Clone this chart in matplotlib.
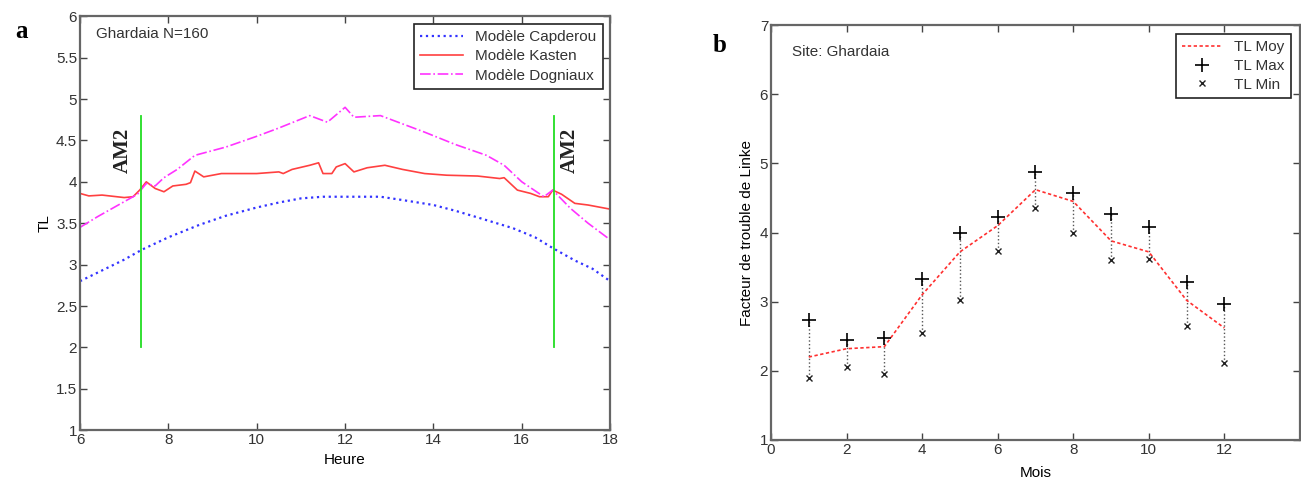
import numpy as np
import matplotlib.pyplot as plt

# panel a : TL hourly profiles, Ghardaia
heure_cap = [6, 6.5, 7, 7.4, 8, 8.7, 9.3, 10, 10.5, 11, 11.5, 12, 12.8, 13.3, 14, 14.5, 15, 15.8, 16.3, 16.7, 17.2, 17.6, 18]
tl_cap = [2.8, 2.93, 3.06, 3.18, 3.33, 3.48, 3.59, 3.69, 3.75, 3.8, 3.82, 3.82, 3.82, 3.78, 3.72, 3.65, 3.57, 3.44, 3.33, 3.2, 3.05, 2.95, 2.8]

heure_kas = [6, 6.2, 6.5, 7.0, 7.2, 7.35, 7.5, 7.7, 7.9, 8.1, 8.4, 8.5, 8.6, 8.8, 9.2, 10, 10.5, 10.6, 10.8,
             11.2, 11.4, 11.5, 11.7, 11.8, 12, 12.2, 12.5, 12.9, 13.3, 13.8, 14.3, 15, 15.5, 15.6, 15.9,
             16.2, 16.4, 16.6, 16.7, 16.9, 17.2, 17.5, 18]
tl_kas = [3.86, 3.83, 3.84, 3.81, 3.82, 3.9, 4.0, 3.92, 3.88, 3.95, 3.97, 3.99, 4.13, 4.06, 4.1, 4.1, 4.12, 4.1, 4.15,
          4.2, 4.23, 4.1, 4.1, 4.18, 4.22, 4.12, 4.17, 4.2, 4.15, 4.1, 4.08, 4.07, 4.04, 4.05, 3.9,
          3.86, 3.82, 3.82, 3.9, 3.85, 3.74, 3.72, 3.67]

heure_dog = [6, 6.4, 6.8, 7.3, 7.5, 7.7, 7.9, 8.2, 8.6, 9.3, 10, 10.5, 11.2, 11.6, 12, 12.2, 12.8, 13.3,
             13.8, 14.5, 15.2, 15.6, 16.0, 16.5, 16.7, 17.1, 17.5, 18]
tl_dog = [3.45, 3.58, 3.7, 3.85, 3.98, 3.95, 4.05, 4.15, 4.32, 4.42, 4.55, 4.65, 4.8, 4.72, 4.9, 4.78, 4.8, 4.7,
          4.6, 4.45, 4.32, 4.2, 4.0, 3.82, 3.9, 3.68, 3.5, 3.3]

am2_heures = [7.38, 16.73]

# panel b : monthly Linke turbidity
mois = np.arange(1, 13)
tl_moy = [2.2, 2.32, 2.35, 3.1, 3.72, 4.1, 4.62, 4.45, 3.88, 3.72, 3.02, 2.62]
tl_max = [2.73, 2.44, 2.47, 3.33, 4.0, 4.22, 4.88, 4.57, 4.27, 4.08, 3.28, 2.97]
tl_min = [1.9, 2.05, 1.95, 2.55, 3.03, 3.74, 4.36, 4.0, 3.6, 3.62, 2.65, 2.12]

plt.rcParams['font.family'] = ['Liberation Sans', 'DejaVu Sans']
plt.rcParams['font.size'] = 11
plt.rcParams['text.color'] = '#333333'

fig = plt.figure(figsize=(13.01, 4.78), dpi=100)
ax1 = fig.add_axes([0.0615, 0.100, 0.4075, 0.866])
ax2 = fig.add_axes([0.5926, 0.0795, 0.4066, 0.868])

for ax in (ax1, ax2):
    ax.tick_params(direction='in', top=True, right=True, length=5, width=1.0,
                   labelsize=11, pad=2, colors='#444444', labelcolor='#333333')
    for s in ax.spines.values():
        s.set_color('#666666')
        s.set_linewidth(1.6)

# --- a ---
ax1.plot(heure_cap, tl_cap, color='#3333ff', linestyle=':', lw=1.6, label='Modèle Capderou')
ax1.plot(heure_kas, tl_kas, color='#ff4040', linestyle='-', lw=1.2, label='Modèle Kasten')
ax1.plot(heure_dog, tl_dog, color='#ff33ff', linestyle='-.', lw=1.2, label='Modèle Dogniaux')
for h in am2_heures:
    ax1.plot([h, h], [2.0, 4.8], color='#22dd22', lw=1.3)
ax1.text(6.97, 4.38, 'AM2', rotation=90, ha='center', va='center', family='Liberation Serif',
         fontsize=15, fontweight='bold', color='#222222')
ax1.text(17.08, 4.38, 'AM2', rotation=90, ha='center', va='center', family='Liberation Serif',
         fontsize=15, fontweight='bold', color='#222222')
ax1.text(6.36, 5.79, 'Ghardaia N=160', va='center')
ax1.set_xlim(6, 18)
ax1.set_ylim(1, 6)
ax1.set_xticks(range(6, 19, 2))
ax1.set_yticks(np.arange(1, 6.01, 0.5))
ax1.set_yticklabels(['1', '1.5', '2', '2.5', '3', '3.5', '4', '4.5', '5', '5.5', '6'])
ax1.set_xlabel('Heure', labelpad=4)
ax1.set_ylabel('TL', labelpad=3)
leg = ax1.legend(loc='upper right', fontsize=11, fancybox=False, edgecolor='#222222',
                 borderaxespad=0.5, handlelength=2.8, framealpha=1, labelspacing=0.35)
leg.get_frame().set_linewidth(1.2)

# --- b ---
ax2.vlines(mois, tl_min, tl_max, colors='#555555', linestyles=':', lw=1.0)
ax2.plot(mois, tl_moy, color='#ff3030', linestyle='--', lw=1.2, dashes=(2, 1.5), label='TL Moy')
ax2.plot(mois, tl_max, linestyle='none', marker='+', color='black', ms=10, mew=1.2, label='TL Max')
ax2.plot(mois, tl_min, linestyle='none', marker='x', color='#222222', ms=4.5, mew=1.0, label='TL Min')
ax2.text(0.55, 6.61, 'Site: Ghardaia', va='center')
ax2.set_xlim(0, 14)
ax2.set_ylim(1, 7)
ax2.set_xticks(range(0, 13, 2))
ax2.set_yticks(range(1, 8))
ax2.set_xlabel('Mois', labelpad=7)
ax2.set_ylabel('Facteur de trouble de Linke', labelpad=4)
leg2 = ax2.legend(loc='upper right', fontsize=11, fancybox=False, edgecolor='#222222',
                  borderaxespad=0.6, handlelength=2.6, framealpha=1, labelspacing=0.3)
leg2.get_frame().set_linewidth(1.2)

fig.text(15 / 1301, 1 - 32 / 478, 'a', family='Liberation Serif', fontweight='bold', fontsize=18,
         va='center', color='black')
fig.text(713 / 1301, 1 - 45 / 478, 'b', family='Liberation Serif', fontweight='bold', fontsize=18,
         va='center', color='black')

fig.savefig('out.png', dpi=100)
